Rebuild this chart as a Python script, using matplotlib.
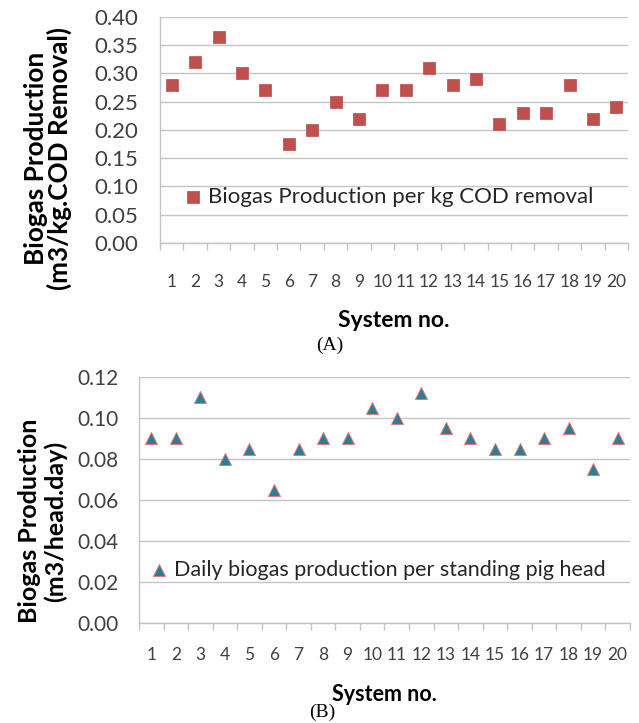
import matplotlib
matplotlib.use("Agg")
import matplotlib.pyplot as plt
from matplotlib.ticker import FixedLocator, MultipleLocator, FormatStrFormatter

# system numbers shared by both panels
systems = list(range(1, 21))

# (A) biogas per kg COD removed
cod_yield = [0.28, 0.32, 0.365, 0.30, 0.27, 0.175, 0.20, 0.25, 0.22, 0.27,
             0.27, 0.31, 0.28, 0.29, 0.21, 0.23, 0.23, 0.28, 0.22, 0.24]

# (B) daily biogas per standing pig head
head_yield = [0.09, 0.09, 0.11, 0.08, 0.085, 0.065, 0.085, 0.09, 0.09, 0.105,
              0.10, 0.112, 0.095, 0.09, 0.085, 0.085, 0.09, 0.095, 0.075, 0.09]

FONT = "Lato"
GRID = "#c4c4c4"
TICKTXT = "#404040"


def style_axis(ax, ymax, ystep, ylab_size, xlab_size, xpad, ypad):
    ax.set_xlim(0.5, len(systems) + 0.5)
    ax.set_ylim(0, ymax)
    ax.yaxis.set_major_locator(MultipleLocator(ystep))
    ax.yaxis.set_major_formatter(FormatStrFormatter("%.2f"))
    ax.xaxis.set_major_locator(FixedLocator(systems))
    ax.xaxis.set_minor_locator(FixedLocator([s - 0.5 for s in systems] + [len(systems) + 0.5]))
    ax.tick_params(axis="x", which="major", length=0, pad=xpad, labelsize=xlab_size,
                   labelcolor=TICKTXT)
    ax.tick_params(axis="x", which="minor", length=5, color=GRID, width=1)
    ax.tick_params(axis="y", length=0, pad=ypad, labelsize=ylab_size, labelcolor=TICKTXT)
    for lab in ax.get_xticklabels() + ax.get_yticklabels():
        lab.set_fontfamily(FONT)
    ax.grid(axis="y", color=GRID, linewidth=1)
    ax.set_axisbelow(True)
    for side in ("top", "right"):
        ax.spines[side].set_visible(False)
    for side in ("left", "bottom"):
        ax.spines[side].set_color(GRID)
        ax.spines[side].set_linewidth(1)


fig = plt.figure(figsize=(6.39, 7.23), dpi=100)
fig.patch.set_facecolor("white")

# top panel
ax1 = fig.add_axes([0.2504, 0.6639, 0.7324, 0.3126])
ax1.scatter(systems, cod_yield, marker="s", s=64, color="#c0504d",
            edgecolors="#b94a47", linewidths=0.5, zorder=3,
            label="Biogas Production per kg COD removal")
style_axis(ax1, 0.40, 0.05, 16, 12.5, 22, 16)
ax1.set_xlabel("System no.", fontfamily=FONT, fontweight="bold", fontsize=16.5, labelpad=15)
ax1.set_ylabel("Biogas Production\n(m3/kg.COD Removal)", fontfamily=FONT,
               fontweight="bold", fontsize=18.8, linespacing=0.95, va="center")
ax1.yaxis.set_label_coords(-0.240, 0.376)
leg1 = ax1.legend(loc="lower left", bbox_to_anchor=(0.013, 0.09), frameon=False,
                  handletextpad=0.2, handlelength=1.0, borderaxespad=0.3,
                  prop={"family": FONT, "size": 16})
for t in leg1.get_texts():
    t.set_color("#262626")

fig.text(0.516, 0.523, "(A)", fontfamily="Liberation Serif", fontsize=14,
         ha="center", va="center")

# bottom panel
ax2 = fig.add_axes([0.2175, 0.1379, 0.7684, 0.3411])
ax2.scatter(systems, head_yield, marker="^", s=75, color="#2e7d96",
            edgecolors="#e07a78", linewidths=0.7, zorder=3,
            label="Daily biogas production per standing pig head")
style_axis(ax2, 0.12, 0.02, 15, 12.5, 17, 15)
ax2.set_xlabel("System no.", fontfamily=FONT, fontweight="bold", fontsize=15.5, labelpad=15)
ax2.set_ylabel("Biogas Production\n(m3/head.day)", fontfamily=FONT,
               fontweight="bold", fontsize=18, linespacing=1.15, va="center")
ax2.yaxis.set_label_coords(-0.1965, 0.415)
leg2 = ax2.legend(loc="lower left", bbox_to_anchor=(-0.012, 0.115), frameon=False,
                  handletextpad=0.2, handlelength=1.0, borderaxespad=0.3,
                  prop={"family": FONT, "size": 15.5})
for t in leg2.get_texts():
    t.set_color("#262626")

fig.text(0.504, 0.015, "(B)", fontfamily="Liberation Serif", fontsize=14,
         ha="center", va="center")

fig.savefig("out.png", dpi=100, facecolor="white")
